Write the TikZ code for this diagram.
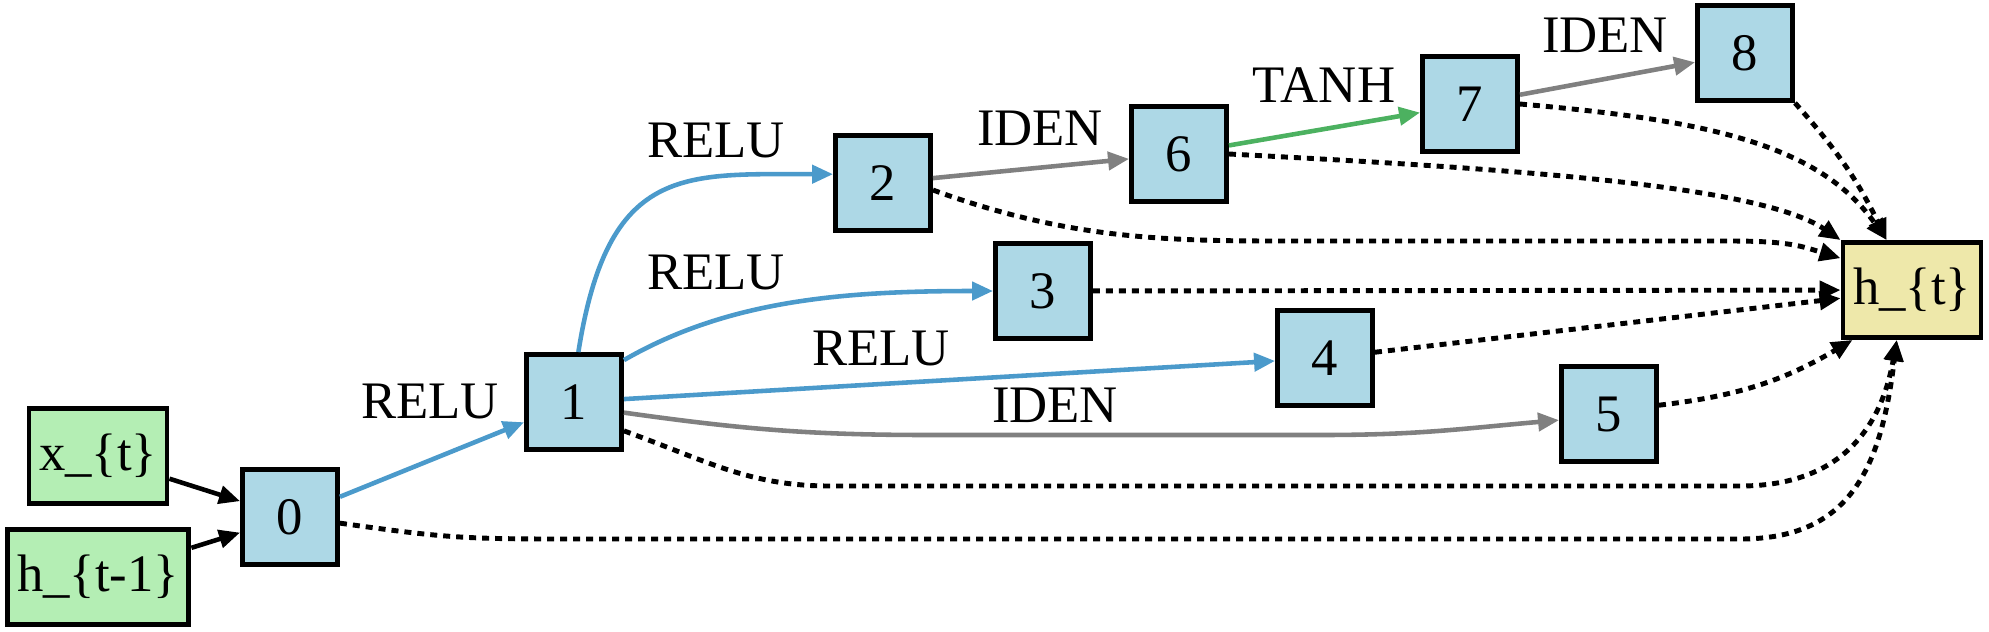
\documentclass[tikz,border=0pt]{standalone}
\usepackage{fontspec}
\setmainfont{LiberationSerif}[
    Extension=.ttf,
    UprightFont=*-Regular,
    BoldFont=*-Bold,
    ItalicFont=*-Italic,
    BoldItalicFont=*-BoldItalic
]
\usetikzlibrary{arrows.meta, positioning, calc}
\definecolor{cellblue}{HTML}{ADD8E6}
\definecolor{ingreen}{HTML}{B4EEB4}
\definecolor{outyellow}{HTML}{EEE8AA}
\definecolor{edgeblue}{RGB}{75,154,203}
\definecolor{edgegreen}{RGB}{76,177,96}
\definecolor{edgegray}{RGB}{128,128,128}
\tikzset{
    cell/.style={
        draw,
        line width=1.4pt,
        fill=cellblue,
        minimum width=0.95cm,
        minimum height=0.95cm,
        inner sep=0pt
    },
    inbox/.style={
        draw,
        line width=1.4pt,
        fill=ingreen,
        minimum height=0.95cm,
        inner xsep=0.1cm
    },
    outbox/.style={inbox, fill=outyellow},
    line/.style={-{Triangle[length=0.21cm, width=0.18cm]}, line width=1.3pt},
    dottedline/.style={line, line width=1.4pt, dash pattern=on 0.07cm off 0.06cm},
    oplabel/.style={inner sep=0pt},
    every node/.style={font=\fontsize{15}{18}\selectfont}
}

\begin{document}
\begin{tikzpicture}
\useasboundingbox (0,0) rectangle (19.89,6.31);

% inputs, cells, output
\node[inbox] (xt) at (0.98,1.75) {x\_\{t\}};
\node[inbox] (htm) at (0.98,0.54) {h\_\{t-1\}};
\node[cell] (n0) at (2.90,1.14) {0};
\node[cell] (n1) at (5.74,2.29) {1};
\node[cell] (n2) at (8.83,4.48) {2};
\node[cell] (n3) at (10.43,3.40) {3};
\node[cell] (n4) at (13.25,2.73) {4};
\node[cell] (n5) at (16.09,2.17) {5};
\node[cell] (n6) at (11.79,4.77) {6};
\node[cell] (n7) at (14.70,5.27) {7};
\node[cell] (n8) at (17.45,5.78) {8};
\node[outbox] (ht) at (19.12,3.41) {h\_\{t\}};

% operations
\draw[line] (xt) -- (n0);
\draw[line] (htm) -- (n0);
\draw[line, edgeblue] (n0) -- (n1);
\draw[line, edgeblue] (n1.85) .. controls +(81:1.9) and +(180:1.5) .. (n2.170);
\draw[line, edgeblue] (n1.40) .. controls +(30:1.2) and +(180:1.5) .. (n3.west);
\draw[line, edgeblue] (n1) -- (n4);
\draw[line, edgegray] (n1.-12) .. controls +(-8:1.2) and +(180:1.2) .. (9.3,1.96)
    -- (13.2,1.96) .. controls +(0:1.0) and +(185:1.0) .. (n5.187);
\draw[line, edgegray] (n2) -- (n6);
\draw[line, edgegreen] (n6) -- (n7);
\draw[line, edgegray] (n7) -- (n8);

\node[oplabel] (l01) at (4.30,2.30) {RELU};
\node[oplabel] (l12) at (7.16,4.91) {RELU};
\node[oplabel] (l13) at (7.16,3.59) {RELU};
\node[oplabel] (l14) at (8.81,2.83) {RELU};
\node[oplabel] (l15) at (10.55,2.26) {IDEN};
\node[oplabel] (l26) at (10.40,5.03) {IDEN};
\node[oplabel] (l67) at (13.24,5.46) {TANH};
\node[oplabel] (l78) at (16.05,5.96) {IDEN};

% concat into h_{t}
\draw[dottedline] (n0.-7) .. controls +(-8:1.0) and +(180:1.0) .. (5.6,0.92)
    -- (17.4,0.92) .. controls +(0:1.1) and +(-97:1.3) .. (ht.253);
\draw[dottedline] (n1.-30) .. controls +(-20:0.9) and +(180:0.8) .. (8.3,1.45)
    -- (17.4,1.45) .. controls +(0:1.0) and +(-100:0.9) .. (ht.253);
\draw[dottedline] (n2.-8) .. controls +(-20:1.4) and +(180:1.2) .. (12.8,3.90)
    -- (17.3,3.90) .. controls +(0:0.6) and +(163:0.4) .. (ht.156);
\draw[dottedline] (n3) -- (ht);
\draw[dottedline] (n4) -- (ht);
\draw[dottedline] (n5.10) to[bend right=12] (ht.220);
\draw[dottedline] (n6.east) .. controls +(-3:2.7) and +(146:1.0) .. (ht.north west);
\draw[dottedline] (n7.east) .. controls +(-5:1.8) and +(125:1.2) .. (ht.117);
\draw[dottedline] (n8.south east) to[bend left=8] (ht.117);

\end{tikzpicture}
\end{document}
